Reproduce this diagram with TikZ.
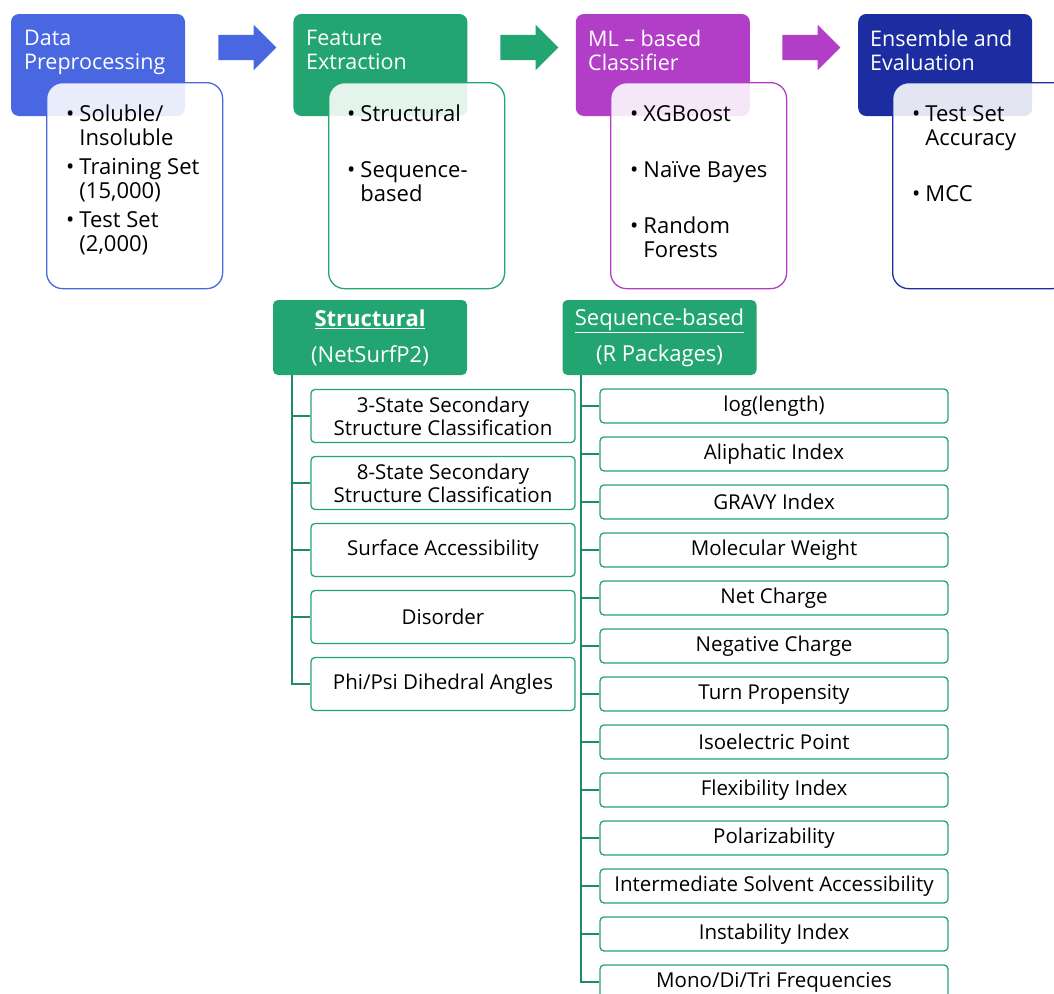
\documentclass[tikz,border=0pt]{standalone}
\usepackage{fontspec}
\setmainfont{Open Sans}
\usetikzlibrary{positioning,shapes.arrows}
\definecolor{prepblue}{HTML}{4A67E2}
\definecolor{featgreen}{HTML}{23A571}
\definecolor{mlpurple}{HTML}{B23EC7}
\definecolor{evalnavy}{HTML}{1B2DA0}
\definecolor{treegreen}{HTML}{1E8C60}
\newcommand{\bul}[1]{\begin{tabular}[t]{@{}l@{\hspace{5pt}}l@{}}\textbullet & #1\end{tabular}}
\tikzset{
  stagebox/.style={rounded corners=8pt, minimum width=174pt, minimum height=102pt, inner sep=0pt},
  stagetext/.style={text=white, align=left, font=\fontsize{21.5}{24}\selectfont, inner sep=0pt, anchor=north west},
  listbox/.style={draw=#1, line width=1.3pt, rounded corners=16pt, fill=white, fill opacity=0.88, minimum width=176pt, minimum height=206pt, anchor=north west},
  listitem/.style={font=\fontsize{22}{24}\selectfont, inner sep=0pt, anchor=base west},
  stagearrow/.style={single arrow, fill=#1, single arrow head extend=10pt, inner xsep=0pt, inner ysep=12.5pt, minimum height=58pt},
  subhead/.style={fill=featgreen, rounded corners=5pt, minimum width=194pt, minimum height=75pt, text=white, align=center, font=\fontsize{22}{36}\selectfont},
  featbox/.style={draw=featgreen, line width=1.3pt, rounded corners=4pt, align=center, inner sep=2pt, font=\fontsize{20.5}{23}\selectfont},
  treeline/.style={draw=treegreen, line width=1.8pt}
}

\begin{document}
\begin{tikzpicture}[x=1pt, y=-1pt]
  \useasboundingbox (0,0) rectangle (1054,993);
  % pipeline stages
  \node[stagebox, fill=prepblue] (prep) at (98,65) {};
  \node[stagebox, fill=featgreen, right=108pt of prep] (feat) {};
  \node[stagebox, fill=mlpurple, right=108pt of feat] (clf) {};
  \node[stagebox, fill=evalnavy, right=108pt of clf] (eval) {};
  \node[stagetext] (prepT) at (24,30) {Data\\Preprocessing};
  \node[stagetext] (featT) at (306,30) {Feature\\Extraction};
  \node[stagetext] (clfT) at (588,30) {ML -- based\\Classifier};
  \node[stagetext] (evalT) at (870,30) {Ensemble and\\Evaluation};
  \node[stagearrow=prepblue] (arr1) at (241,47.5) {};
  \node[stagearrow=featgreen] (arr2) at (523,47.5) {};
  \node[stagearrow=mlpurple] (arr3) at (805,47.5) {};
  % bullet lists
  \node[listbox=prepblue] (prepL) at (46,82) {};
  \node[listbox=featgreen] (featL) at (328,82) {};
  \node[listbox=mlpurple] (clfL) at (610,82) {};
  \node[listbox=evalnavy] (evalL) at (892,82) {};
  \node[listitem] (prep1) at (66,121) {\bul{Soluble/\\ & Insoluble}};
  \node[listitem] (prep2) at (66,174) {\bul{Training Set\\ & (15,000)}};
  \node[listitem] (prep3) at (66,227) {\bul{Test Set\\ & (2,000)}};
  \node[listitem] (feat1) at (347,121) {\bul{Structural}};
  \node[listitem] (feat2) at (347,177) {\bul{Sequence-\\ & based}};
  \node[listitem] (clf1) at (630,121) {\bul{XGBoost}};
  \node[listitem] (clf2) at (630,177) {\bul{Naïve Bayes}};
  \node[listitem] (clf3) at (630,233) {\bul{Random\\ & Forests}};
  \node[listitem] (eval1) at (912,121) {\bul{Test Set\\ & Accuracy}};
  \node[listitem] (eval2) at (912,201) {\bul{MCC}};
  % feature trees
  \node[subhead] (strH) at (370,337.5) {\textbf{\underline{Structural}}\\(NetSurfP2)};
  \node[subhead] (seqH) at (659.5,337.5) {\underline{Sequence-based}\\(R Packages)};
  \foreach \txt [count=\i] in {{3-State Secondary\\Structure Classification}, {8-State Secondary\\Structure Classification}, Surface Accessibility, Disorder, Phi/Psi Dihedral Angles} {
    \node[featbox, minimum width=264pt, minimum height=53pt] (str\i) at (443,{349+67*\i}) {\txt};
    \draw[treeline] ([xshift=19pt]strH.south west) |- (str\i.west);
  }
  \foreach \txt [count=\i] in {log(length), Aliphatic Index, GRAVY Index, Molecular Weight, Net Charge, Negative Charge, Turn Propensity, Isoelectric Point, Flexibility Index, Polarizability, Intermediate Solvent Accessibility, Instability Index, Mono/Di/Tri Frequencies} {
    \node[featbox, minimum width=348pt, minimum height=34pt] (seq\i) at (774,{358+48*\i}) {\txt};
    \draw[treeline] ([xshift=19pt]seqH.south west) |- (seq\i.west);
  }
\end{tikzpicture}
\end{document}
